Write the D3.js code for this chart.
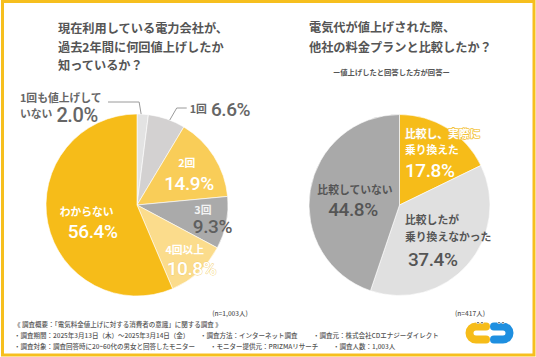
<!DOCTYPE html>
<html><head><meta charset="utf-8">
<script src="https://cdn.jsdelivr.net/npm/d3@7"></script>
<style>
html,body{margin:0;padding:0;background:#fff;}
svg{display:block;}
</style></head>
<body>
<script>
// ---- data ----
const leftCategories = ["1回も値上げしていない", "1回", "2回", "3回", "4回以上", "わからない"];
const leftValues = [2.0, 6.6, 14.9, 9.3, 10.8, 56.4];
const leftN = "(n=1,003人)";
const rightCategories = ["比較し、実際に乗り換えた", "比較したが乗り換えなかった", "比較していない"];
const rightValues = [17.8, 37.4, 44.8];
const rightN = "(n=417人)";
const leftTitle = ["現在利用している電力会社が、", "過去2年間に何回値上げしたか", "知っているか？"];
const rightTitle = ["電気代が値上げされた際、", "他社の料金プランと比較したか？"];
const rightSubtitle = "ー値上げしたと回答した方が回答ー";

// ---- styles ----
const leftColors = ["#e3e3e3", "#d3d1d1", "#f9cd58", "#aaaaaa", "#fbdc8c", "#f6bc19"];
const rightColors = ["#f6bc19", "#e0e0e0", "#a9a9a9"];
const JP = "'Noto Sans CJK JP','Noto Sans',sans-serif";
const NUM = "Roboto,'Noto Sans',sans-serif";
const W = 536, H = 357;

const svg = d3.select("body").append("svg").attr("width", W).attr("height", H);
svg.append("rect").attr("width", W).attr("height", H).attr("fill", "#fff");
svg.append("rect").attr("x", 2.5).attr("y", 1.5).attr("width", W - 4.5).attr("height", H - 3.5)
  .attr("fill", "none").attr("stroke", "#f6bf1e").attr("stroke-width", 3);

function title(lines, x, y0, step) {
  lines.forEach((t, i) => svg.append("text").attr("x", x).attr("y", y0 + i * step)
    .attr("font-family", JP).attr("font-weight", 700).attr("font-size", 12.2)
    .attr("fill", "#555").text(t));
}
title(leftTitle, 58, 33, 18.5);
title(rightTitle, 309, 31.5, 20);
svg.append("text").attr("x", 333).attr("y", 74.5).attr("font-family", JP).attr("font-weight", 700)
  .attr("font-size", 7.3).attr("fill", "#555").text(rightSubtitle);

const pie = d3.pie().sort(null).value(d => d);
const deg = Math.PI / 180;

function drawPie(values, colors, cx, cy, R) {
  const arcs = pie(values);
  const arc = d3.arc().innerRadius(0).outerRadius(R);
  const g = svg.append("g").attr("transform", `translate(${cx},${cy})`);
  g.selectAll("path").data(arcs).join("path").attr("d", arc)
    .attr("fill", (d, i) => colors[i]).attr("stroke", "#fff").attr("stroke-width", 0.6);
  return {arcs, g, R};
}
function centroidAt(a, r) {
  const m = (a.startAngle + a.endAngle) / 2;
  return [r * Math.sin(m), -r * Math.cos(m)];
}
function catLine(g, x, y, txt, color, anchor) {
  return g.append("text").attr("x", x).attr("y", y).attr("text-anchor", anchor || "middle")
    .attr("font-family", JP).attr("font-weight", 700).attr("font-size", 10.8)
    .attr("fill", color).text(txt);
}
function pctLine(g, x, y, txt, color, anchor) {
  return g.append("text").attr("x", x).attr("y", y).attr("text-anchor", anchor || "middle")
    .attr("font-family", NUM).attr("font-weight", 500).attr("font-size", 19)
    .attr("letter-spacing", -0.4).attr("fill", color).text(txt);
}
const pct = v => v.toFixed(1) + "%";
const outline = (sel, c) => sel.attr("stroke", c).attr("stroke-width", 1.6)
  .attr("stroke-linejoin", "round").attr("paint-order", "stroke");

// ---- left pie ----
const L = drawPie(leftValues, leftColors, 137, 205, 91);
// internal labels: [index, radius frac, catDx, catDy, pctDx, pctDy, catColor, pctColor]
const leftInner = [
  [2, 0.66, -1, -5.6, 1.2, 16.8, "#fff", "#fff"],
  [3, 0.79, -4.6, -5.1, 5, 14.3, "#f2f2f2", "#5f5f5f"],
  [4, 0.81, -2, -5.5, 4.7, 15.5, "#fff", "#fff"],
  [5, 0.55, -1.3, 0.8, 4.7, 23.5, "#fff", "#fff"]
];
leftInner.forEach(([i, rf, cdx, cdy, pdx, pdy, cc, pc]) => {
  const [x, y] = centroidAt(L.arcs[i], rf * L.R);
  catLine(L.g, x + cdx, y + cdy, leftCategories[i], cc);
  const p = pctLine(L.g, x + pdx, y + pdy, pct(leftValues[i]), pc);
  if (i === 4) { outline(p, "#f3cf6f"); p.attr("stroke-width", 0.8); }
});
// external label: 1回
{
  const a = L.arcs[1];
  const m = (a.startAngle + a.endAngle) / 2 + 2 * deg;
  const p0 = [L.R * Math.sin(m), -L.R * Math.cos(m)];
  const p1 = [p0[0] + 7, -97], p2 = [p1[0] + 10, -97];
  L.g.append("path").attr("d", d3.line()([p0, p1, p2])).attr("fill", "none")
    .attr("stroke", "#9a9a9a").attr("stroke-width", 1);
  const t = L.g.append("text").attr("x", p2[0] + 3).attr("y", -92)
    .attr("font-family", JP).attr("font-weight", 700).attr("font-size", 10.8).attr("fill", "#666");
  t.append("tspan").text(leftCategories[1]);
  t.append("tspan").attr("dx", 4).attr("dy", 2.5).attr("font-family", NUM).attr("font-weight", 500)
    .attr("font-size", 19).attr("letter-spacing", -0.4).text(pct(leftValues[1]));
}
// external label: 1回も値上げしていない
{
  const a = L.arcs[0];
  const m = (a.startAngle + a.endAngle) / 2 - 1 * deg;
  const p0 = [L.R * Math.sin(m), -L.R * Math.cos(m)];
  const p1 = [p0[0] - 2, -103], p2 = [-29, -103];
  L.g.append("path").attr("d", d3.line()([p0, p1, p2])).attr("fill", "none")
    .attr("stroke", "#9a9a9a").attr("stroke-width", 1);
  const c = leftCategories[0];
  L.g.append("text").attr("x", -117).attr("y", -103.5).attr("font-family", JP).attr("font-weight", 700)
    .attr("font-size", 10.8).attr("fill", "#666").text(c.slice(0, 8));
  const t = L.g.append("text").attr("x", -117).attr("y", -87.5).attr("font-family", JP).attr("font-weight", 700)
    .attr("font-size", 10.8).attr("fill", "#666");
  t.append("tspan").text(c.slice(8));
  t.append("tspan").attr("dx", 4).attr("dy", 4).attr("font-family", NUM).attr("font-weight", 500)
    .attr("font-size", 20).attr("letter-spacing", -0.4).text(pct(leftValues[0]));
}

// ---- right pie ----
const Rp = drawPie(rightValues, rightColors, 399.5, 205, 90.5);
{
  // slice 0
  const [x0, y0] = centroidAt(Rp.arcs[0], 0.55 * Rp.R);
  outline(catLine(Rp.g, x0 - 21, y0 - 25.2, "比較し、実際に", "#fff", "start"), "#f3c23a");
  catLine(Rp.g, x0 - 21, y0 - 8.5, "乗り換えた", "#fff", "start");
  pctLine(Rp.g, x0 - 21, y0 + 14.2, pct(rightValues[0]), "#fff", "start");
  // slice 1
  const [x1, y1] = centroidAt(Rp.arcs[1], 0.6 * Rp.R);
  catLine(Rp.g, x1 - 35.2, y1 - 16.8, "比較したが", "#555", "start");
  catLine(Rp.g, x1 - 35.2, y1 - 0.1, "乗り換えなかった", "#555", "start");
  pctLine(Rp.g, x1 - 7.5, y1 + 25.2, pct(rightValues[1]), "#555");
  // slice 2
  const [x2, y2] = centroidAt(Rp.arcs[2], 0.55 * Rp.R);
  catLine(Rp.g, x2 + 4.6, y2 - 2.8, rightCategories[2], "#555");
  pctLine(Rp.g, x2 + 2.6, y2 + 18.9, pct(rightValues[2]), "#555");
}

// ---- n labels & footer ----
function small(x, y, t, anchor) {
  svg.append("text").attr("x", x).attr("y", y).attr("text-anchor", anchor || "start")
    .attr("font-family", JP).attr("font-weight", 500).attr("font-size", 6.5).attr("fill", "#555").text(t);
}
small(230, 315.5, leftN, "middle");
small(470, 315.5, rightN, "middle");
small(14, 326.5, "《 調査概要：「電気料金値上げに対する消費者の意識」に関する調査 》");
small(14, 337.5, "・調査期間：2025年3月13日（木）～2025年3月14日（金）");
small(200, 337.5, "・調査方法：インターネット調査");
small(313, 337.5, "・調査元：株式会社CDエナジーダイレクト");
small(14, 348.5, "・調査対象：調査回答時に20~60代の男女と回答したモニター");
small(210, 348.5, "・モニター提供元：PRIZMAリサーチ");
small(333, 348.5, "・調査人数：1,003人");

// ---- logo ----
const logo = svg.append("g");
logo.append("path").attr("d", "M486,326.5 H476 A6.5,6.5 0 0 0 476,339.5 H486")
  .attr("fill", "none").attr("stroke", "#f6bc19").attr("stroke-width", 8).attr("stroke-linecap", "round");
logo.append("path").attr("d", "M494,326.5 H503 A6.5,6.5 0 0 1 503,339.5 H494")
  .attr("fill", "none").attr("stroke", "#1e8fe0").attr("stroke-width", 8).attr("stroke-linecap", "round");
[[478, 322.5], [482, 322.5], [499, 322.5], [503, 322.5]].forEach(([x, y]) => {
  logo.append("circle").attr("cx", x).attr("cy", y).attr("r", 1.6).attr("fill", "#fff");
  logo.append("circle").attr("cx", x).attr("cy", y + 0.2).attr("r", 0.8).attr("fill", "#333");
});
</script>
</body></html>
